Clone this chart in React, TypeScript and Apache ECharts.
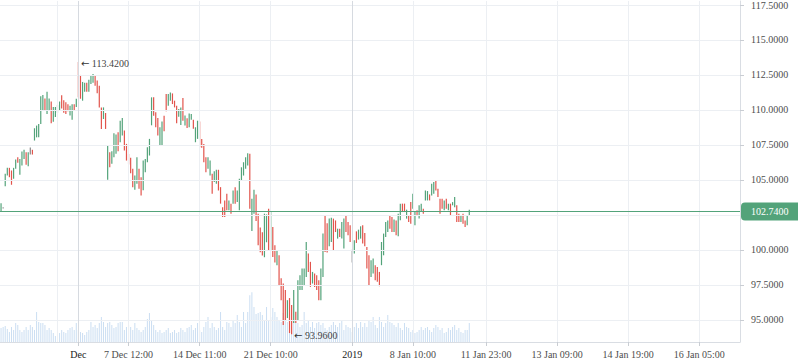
import React, { useEffect, useRef } from "react";
import * as echarts from "echarts";

// ---- time axis: 354 bar slots (bars + empty future slots) ----
const SLOT_COUNT = 354;
const tickIndex = [37, 61, 95, 129, 168, 197, 232, 266, 300, 334];
const tickText = ["Dec", "7 Dec 12:00", "14 Dec 11:00", "21 Dec 10:00", "2019", "8 Jan 10:00", "11 Jan 23:00", "13 Jan 09:00", "14 Jan 19:00", "16 Jan 05:00"];
const majorTicks = ["Dec", "2019"];
const extraGridIndex = [27];

// ---- price scale ----
const priceMin = 93.41;
const priceMax = 117.79;
const priceGrid = [95, 97.5, 100, 102.5, 105, 107.5, 110, 112.5, 115, 117.5];
const priceLabels = [95, 97.5, 100, 105, 107.5, 110, 112.5, 115, 117.5];
const lastClose = 102.74;

// ---- bars: low / high / direction (U up, D down, N unchanged) ----
const lows = [
  102.75, 102.95, 104.55, 105.31, 105.19, 104.65, 105.08, 105.79, 106.22, 105.36,
  106.03, 106.5, 106.08, 105.98, 106.81, 106.81, 107.81, 108.04, 108.04, 109.0,
  109.95, 109.95, 109.71, 109.95, 109.05, 109.15, 109.5, 109.8, 109.95, 110.1,
  109.8, 109.7, 109.9, 109.6, 109.3, 109.95, 110.2, 110.9, 110.8, 110.66,
  111.3, 111.3, 111.3, 111.85, 111.94, 111.73, 111.2, 110.18, 108.64, 109.35,
  108.64, 105.0, 105.9, 106.15, 106.62, 106.86, 107.05, 107.69, 108.17, 107.1,
  106.38, 106.1, 105.48, 104.48, 104.29, 104.72, 104.37, 103.89, 104.25, 105.55,
  106.26, 106.74, 108.9, 109.59, 108.76, 108.17, 107.45, 107.45, 108.47, 109.9,
  110.3, 110.66, 110.42, 110.18, 109.04, 109.52, 108.93, 109.23, 108.88, 108.7,
  108.76, 109.3, 108.65, 107.69, 107.93, 107.33, 107.29, 106.26, 105.55, 105.79,
  105.31, 104.0, 104.84, 104.72, 104.24, 103.3, 102.34, 102.34, 102.82, 102.82,
  102.58, 103.3, 103.3, 103.41, 102.82, 104.96, 105.31, 105.79, 106.03, 102.94,
  101.34, 102.58, 102.06, 100.32, 99.83, 99.6, 99.47, 100.54, 99.97, 99.97,
  99.49, 99.1, 98.9, 97.47, 96.4, 94.62, 94.98, 95.12, 94.05, 93.96,
  94.76, 94.76, 94.98, 97.12, 97.12, 97.47, 98.06, 98.42, 97.35, 97.59,
  97.35, 97.12, 96.4, 96.4, 98.06, 99.85, 99.8, 100.25, 100.56, 99.97,
  101.27, 100.8, 100.92, 100.8, 100.09, 101.27, 101.04, 100.56, 99.1, 99.73,
  100.49, 100.73, 100.8, 100.45, 100.25, 98.66, 97.47, 98.06, 98.3, 97.83,
  97.71, 97.4, 98.9, 99.61, 100.92, 101.27, 101.51, 101.27, 101.27, 101.04,
  100.97, 102.11, 102.7, 102.7, 102.23, 101.98, 101.87, 102.94, 101.75, 102.46,
  102.23, 102.7, 102.58, 103.53, 103.53, 103.53, 103.89, 104.0, 104.24, 103.77,
  102.58, 102.94, 102.82, 102.94, 102.82, 102.46, 103.18, 103.05, 101.98, 101.98,
  101.98, 101.87, 101.63, 101.75, 102.46,
];
const highs = [
  103.32, 103.05, 105.43, 105.86, 105.86, 105.67, 105.86, 106.45, 106.62, 106.5,
  107.02, 107.15, 106.97, 106.97, 107.31, 107.15, 108.69, 108.88, 109.0, 110.97,
  111.07, 110.82, 111.3, 110.82, 110.6, 110.2, 110.2, 110.35, 110.6, 111.05,
  110.7, 110.55, 110.4, 110.3, 110.4, 110.4, 110.8, 113.42, 112.5, 112.0,
  111.95, 111.95, 112.15, 112.5, 112.57, 112.44, 112.1, 111.73, 110.18, 110.18,
  109.78, 107.45, 106.97, 107.05, 108.33, 108.24, 108.4, 109.23, 109.43, 108.52,
  107.57, 106.86, 106.58, 105.79, 105.31, 106.62, 105.79, 105.19, 106.38, 106.5,
  107.33, 107.93, 110.9, 110.9, 109.83, 109.43, 108.76, 109.18, 109.59, 111.14,
  111.14, 111.25, 111.18, 110.66, 110.3, 110.07, 110.18, 110.85, 109.6, 109.4,
  109.75, 109.7, 109.3, 108.76, 109.23, 109.18, 107.93, 107.57, 106.62, 106.62,
  106.38, 105.43, 105.62, 105.72, 105.72, 104.48, 103.05, 103.53, 104.0, 103.53,
  103.3, 104.24, 104.48, 104.24, 105.08, 105.9, 106.26, 106.62, 106.9, 106.86,
  103.65, 104.29, 103.96, 102.58, 101.6, 101.25, 102.58, 102.53, 102.94, 102.7,
  101.63, 100.32, 99.97, 99.61, 97.97, 97.6, 97.12, 96.4, 96.55, 96.05,
  97.12, 95.57, 97.83, 98.19, 98.66, 98.66, 100.56, 99.73, 99.14, 98.42,
  98.31, 98.19, 97.83, 98.66, 101.16, 102.46, 101.9, 102.23, 102.3, 102.23,
  102.1, 101.51, 101.51, 101.98, 102.23, 102.46, 101.98, 101.75, 100.0, 100.68,
  101.32, 101.44, 101.68, 101.75, 101.2, 100.2, 99.61, 99.26, 99.38, 98.9,
  98.78, 98.42, 100.56, 101.16, 101.98, 102.1, 102.46, 102.34, 102.16, 102.1,
  102.58, 103.3, 103.3, 103.3, 102.87, 102.46, 103.41, 104.0, 102.7, 102.82,
  103.18, 103.3, 102.94, 104.24, 104.2, 103.96, 104.72, 104.84, 104.91, 104.37,
  103.65, 103.65, 103.53, 103.65, 103.3, 103.3, 103.41, 103.77, 103.18, 102.58,
  102.46, 102.58, 102.1, 102.46, 102.87,
];
const dirs = (
  "UNUUDDUUDU UUDUNDUUUU UDUUDUUUUD DDDUUDUDDU UDUUUDDDDU " +
  "DUDUUUDUUD DDDDUUDDUU UUUDDDUUDD UUDDDUUDUD UUDUUDDDDU " +
  "UDUUDDDDDU DUDUUUUUUD UUDDDDUUDU DDUDDDDUDD UDUUUUUDDU " +
  "DDDUUDDUUD DUDUUDDDNU DUUDDDDUUD DDUUUUDDUD UUDDUDDUUD " +
  "UUDUUDUUDD DDUDUDUUDD UDDUU"
).replace(/ /g, "");

// ---- volume (hundreds of lots) ----
const volumes = [
  14, 15, 16, 13, 10, 15, 12, 19, 17, 12, 10, 12, 15, 12, 17, 15, 12, 30, 20, 19,
  19, 17, 12, 14, 12, 9, 6, 7, 9, 12, 10, 9, 12, 14, 15, 12, 19, 12, 10, 9,
  7, 10, 12, 20, 15, 17, 14, 19, 25, 20, 15, 19, 20, 17, 14, 15, 19, 20, 20, 12,
  15, 17, 15, 12, 19, 14, 12, 10, 12, 15, 23, 29, 22, 17, 12, 10, 12, 9, 10, 12,
  14, 9, 10, 12, 9, 10, 14, 12, 10, 14, 15, 17, 12, 14, 19, 12, 10, 15, 20, 25,
  14, 19, 15, 12, 14, 30, 15, 12, 20, 19, 15, 22, 19, 27, 20, 15, 30, 19, 30, 47,
  50, 35, 28, 29, 30, 27, 22, 35, 22, 25, 34, 30, 25, 22, 20, 29, 24, 20, 19, 15,
  20, 19, 19, 15, 17, 30, 19, 22, 15, 20, 14, 19, 20, 17, 19, 14, 12, 15, 17, 20,
  17, 15, 19, 22, 12, 17, 15, 14, 10, 15, 19, 14, 20, 15, 19, 15, 22, 20, 25, 17,
  14, 25, 20, 15, 19, 27, 20, 19, 17, 15, 19, 14, 12, 19, 15, 14, 10, 12, 9, 10,
  12, 15, 12, 14, 15, 12, 10, 14, 17, 15, 12, 14, 9, 10, 14, 12, 15, 17, 12, 14,
  10, 9, 12, 12, 19,
];
const volumeAxisMax = 342;

const UP = "#53a37a";
const DOWN = "#e2544c";
const FLAT = "#8a8a8a";
const GRID = "#eceff3";
const GRID_MAJOR = "#d6dae0";
const FONT = "'Liberation Serif', 'Times New Roman', serif";

function buildOption() {
  const categories: string[] = [];
  for (let i = 0; i < SLOT_COUNT; i++) {
    const k = tickIndex.indexOf(i);
    categories.push(k >= 0 ? tickText[k] : "");
  }
  const isTick = (i: number) => tickIndex.indexOf(i) >= 0;
  const barData = lows.map((lo, i) => {
    const d = dirs[i];
    return [i, lo, highs[i], d === "U" ? 1 : d === "D" ? -1 : 0];
  });
  const blank = categories.map(() => null);

  let hiIdx = 0;
  let loIdx = 0;
  highs.forEach((h, i) => { if (h > highs[hiIdx]) hiIdx = i; });
  lows.forEach((l, i) => { if (l < lows[loIdx]) loIdx = i; });

  const gridLines: any[] = [];
  priceGrid.forEach((v) => gridLines.push({ yAxis: v }));
  tickIndex.forEach((idx, k) =>
    gridLines.push({
      xAxis: idx,
      lineStyle: { color: majorTicks.indexOf(tickText[k]) >= 0 ? GRID_MAJOR : GRID, width: 1, type: "solid" },
    })
  );
  extraGridIndex.forEach((idx) => gridLines.push({ xAxis: idx }));

  return {
    animation: false,
    backgroundColor: "#ffffff",
    grid: { left: 0, right: 58, top: 0, bottom: 21, containLabel: false },
    xAxis: {
      type: "category",
      data: categories,
      boundaryGap: true,
      axisLine: { show: true, lineStyle: { color: "#d9dde3", width: 1 } },
      axisTick: {
        show: true,
        alignWithLabel: true,
        interval: (i: number) => isTick(i),
        length: 4,
        lineStyle: { color: "#c9cdd3" },
      },
      axisLabel: {
        interval: (i: number) => isTick(i),
        fontSize: 10,
        fontFamily: FONT,
        margin: 7,
        color: (v: string) => (majorTicks.indexOf(v) >= 0 ? "#1a1a1a" : "#4d4d4d"),
      },
      splitLine: { show: false },
    },
    yAxis: [
      {
        type: "value",
        position: "right",
        min: priceMin,
        max: priceMax,
        axisLine: { show: true, lineStyle: { color: "#d9dde3", width: 1 } },
        axisTick: { show: true, customValues: priceLabels, length: 4, lineStyle: { color: "#c9cdd3" } },
        axisLabel: {
          customValues: priceLabels,
          formatter: (v: number) => v.toFixed(4),
          fontSize: 10,
          fontFamily: FONT,
          color: "#4d4d4d",
          margin: 11,
        },
        splitLine: { show: false },
      },
      { type: "value", min: 0, max: volumeAxisMax, show: false, splitLine: { show: false } },
    ],
    series: [
      {
        type: "line",
        data: blank,
        silent: true,
        symbol: "none",
        lineStyle: { opacity: 0 },
        z: 0,
        markLine: {
          silent: true,
          symbol: ["none", "none"],
          label: { show: false },
          lineStyle: { color: GRID, width: 1, type: "solid" },
          data: gridLines,
        },
      },
      {
        type: "bar",
        data: volumes,
        yAxisIndex: 1,
        barWidth: 1,
        silent: true,
        itemStyle: { color: "rgba(118,168,222,0.38)" },
        z: 1,
      },
      {
        type: "custom",
        data: barData,
        encode: { x: 0, y: [1, 2] },
        silent: true,
        z: 2,
        renderItem: (params: any, api: any) => {
          const i = api.value(0);
          const lo = api.value(1);
          const hi = api.value(2);
          const d = api.value(3);
          const top = api.coord([i, hi]);
          const bot = api.coord([i, lo]);
          const y2 = bot[1] - top[1] < 1.2 ? top[1] + 1.2 : bot[1];
          return {
            type: "line",
            shape: { x1: top[0], y1: top[1], x2: top[0], y2 },
            style: { stroke: d > 0 ? UP : d < 0 ? DOWN : FLAT, lineWidth: 1.2 },
          };
        },
      },
      {
        type: "line",
        data: blank,
        silent: true,
        symbol: "none",
        lineStyle: { opacity: 0 },
        z: 5,
        markLine: {
          silent: true,
          symbol: ["none", "none"],
          lineStyle: { color: UP, width: 1, type: "solid" },
          label: {
            show: true,
            position: "end",
            distance: 1,
            formatter: () => lastClose.toFixed(4),
            color: "#ffffff",
            backgroundColor: UP,
            padding: [4, 10, 4, 10],
            borderRadius: [4, 0, 0, 4],
            fontSize: 10,
            fontFamily: FONT,
          },
          data: [{ yAxis: lastClose }],
        },
        markPoint: {
          silent: true,
          symbol: "circle",
          symbolSize: 1,
          itemStyle: { color: "rgba(0,0,0,0)" },
          label: {
            show: true,
            position: "right",
            distance: 2,
            offset: [0, 1],
            formatter: (p: any) => "{a|\u2190} " + Number(p.value).toFixed(4),
            color: "#444444",
            fontSize: 10,
            fontFamily: FONT,
            rich: {
              a: { fontFamily: "'DejaVu Sans', sans-serif", fontSize: 10, color: "#333333" },
            },
          },
          data: [
            { coord: [hiIdx, highs[hiIdx]], value: highs[hiIdx] },
            { coord: [loIdx, lows[loIdx]], value: lows[loIdx] },
          ],
        },
      },
    ],
  };
}

export default function App() {
  const ref = useRef<HTMLDivElement>(null);
  useEffect(() => {
    if (!ref.current) return;
    const chart = echarts.init(ref.current, null, { renderer: "svg" });
    chart.setOption(buildOption() as any);
    return () => chart.dispose();
  }, []);
  return (
    <div
      ref={ref}
      style={{ position: "fixed", left: 0, top: 0, width: 798, height: 363, background: "#ffffff" }}
    />
  );
}
